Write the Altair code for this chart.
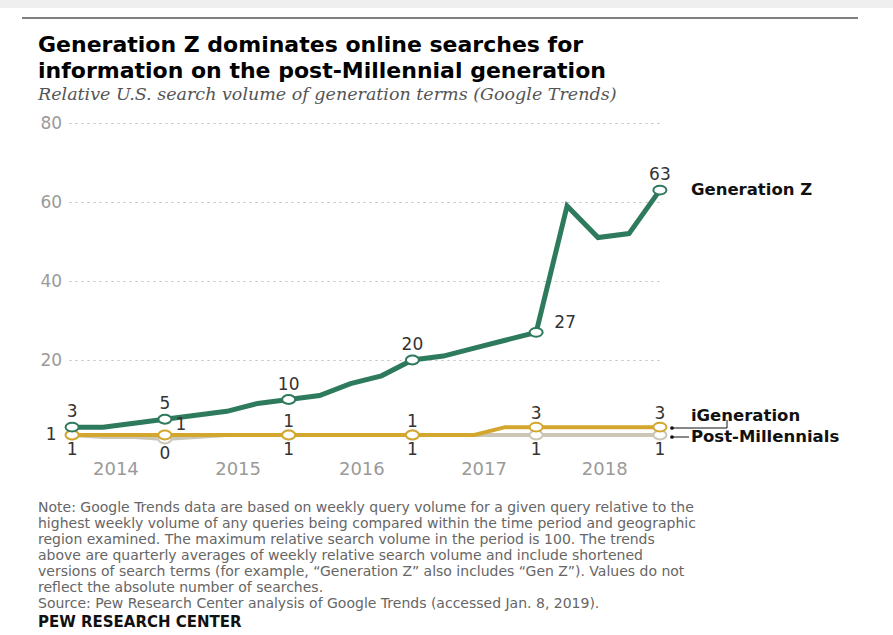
import altair as alt
import pandas as pd

quarters = ["2014 Q1", "2014 Q2", "2014 Q3", "2014 Q4",
            "2015 Q1", "2015 Q2", "2015 Q3", "2015 Q4",
            "2016 Q1", "2016 Q2", "2016 Q3", "2016 Q4",
            "2017 Q1", "2017 Q2", "2017 Q3", "2017 Q4",
            "2018 Q1", "2018 Q2", "2018 Q3", "2018 Q4"]
gen_z = [3, 3, 4, 5, 6, 7, 9, 10, 11, 14, 16, 20, 21, 23, 25, 27, 59, 51, 52, 63]
igeneration = [1, 1, 1, 1, 1, 1, 1, 1, 1, 1, 1, 1, 1, 1, 3, 3, 3, 3, 3, 3]
post_millennials = [1, 0.5, 0.5, 0, 0.5, 1, 1, 1, 1, 1, 1, 1, 1, 1, 1, 1, 1, 1, 1, 1]
labeled_quarters = ["2014 Q1", "2014 Q4", "2015 Q4", "2016 Q4", "2017 Q4", "2018 Q4"]
series_names = ["Generation Z", "iGeneration", "Post-Millennials"]

title_lines = ["Generation Z dominates online searches for",
               "information on the post-Millennial generation"]
subtitle = "Relative U.S. search volume of generation terms (Google Trends)"
note_lines = [
    "Note: Google Trends data are based on weekly query volume for a given query relative to the",
    "highest weekly volume of any queries being compared within the time period and geographic",
    "region examined. The maximum relative search volume in the period is 100. The trends",
    "above are quarterly averages of weekly relative search volume and include shortened",
    "versions of search terms (for example, \u201cGeneration Z\u201d also includes \u201cGen Z\u201d). Values do not",
    "reflect the absolute number of searches.",
    "Source: Pew Research Center analysis of Google Trends (accessed Jan. 8, 2019).",
]
source_label = "PEW RESEARCH CENTER"

rows = []
for name, vals in zip(series_names, [gen_z, igeneration, post_millennials]):
    for i, (q, v) in enumerate(zip(quarters, vals)):
        rows.append({"quarter": q, "idx": i, "series": name, "value": v,
                     "labeled": q in labeled_quarters})
df = pd.DataFrame(rows)

GREEN = "#2e7a5c"
GOLD = "#d3a62e"
BEIGE = "#cbc6b5"
colors = {"Generation Z": GREEN, "iGeneration": GOLD, "Post-Millennials": BEIGE}
widths = {"Generation Z": 5, "iGeneration": 4, "Post-Millennials": 4}

ellipse = "M -1 0 A 1 0.68 0 1 0 1 0 A 1 0.68 0 1 0 -1 0 Z"

x_enc = alt.X("idx:Q", scale=alt.Scale(domain=[-0.1, 19.1], nice=False, zero=False),
              axis=alt.Axis(values=[1.4, 5.35, 9.35, 13.3, 17.2],
                            labelExpr="'' + (2014 + floor(datum.value / 4))",
                            grid=False, domain=False, ticks=False, labelPadding=21,
                            labelColor="#9a9a9a", labelFontSize=18, labelFont="DejaVu Sans",
                            title=None))
y_enc = alt.Y("value:Q", scale=alt.Scale(domain=[0, 80], nice=False),
              axis=alt.Axis(values=[20, 40, 60, 80], grid=True, gridDash=[2, 4],
                            gridColor="#bdbdbd", gridWidth=1, domain=False, ticks=False,
                            labelAlign="left", labelPadding=29, labelColor="#9a9a9a",
                            labelFontSize=17, labelFont="DejaVu Sans", labelBaseline="middle",
                            title=None))

base = alt.Chart(df)
layers = []

# top decoration
deco = alt.Chart(pd.DataFrame({"a": [0]}))
layers.append(deco.mark_rect(color="#efefef").encode(
    x=alt.value(-69), x2=alt.value(824), y=alt.value(-123), y2=alt.value(-115)))
layers.append(deco.mark_rule(color="#555555", strokeWidth=1.5).encode(
    x=alt.value(-47), x2=alt.value(789), y=alt.value(-105)))

# title and subtitle
layers.append(deco.mark_text(align="left", baseline="alphabetic", font="DejaVu Sans",
                             fontSize=22, fontWeight="bold", color="#000000",
                             lineHeight=26).encode(
    x=alt.value(-31), y=alt.value(52 - 123), text=alt.value(title_lines)))
layers.append(deco.mark_text(align="left", baseline="alphabetic", font="DejaVu Serif",
                             fontSize=17.5, fontStyle="italic", color="#555555").encode(
    x=alt.value(-31), y=alt.value(100 - 123), text=alt.value(subtitle)))

for name in ["Post-Millennials", "iGeneration", "Generation Z"]:
    s = base.transform_filter(alt.datum.series == name)
    layers.append(s.mark_line(color=colors[name], strokeWidth=widths[name]).encode(x=x_enc, y=y_enc))
    layers.append(s.transform_filter(alt.datum.labeled).mark_point(
        shape=ellipse, size=170, filled=True, fill="white", stroke=colors[name],
        strokeWidth=2, opacity=1).encode(x=x_enc, y=y_enc))

txt = dict(font="DejaVu Sans", fontSize=17, color="#333333")
val_text = alt.Text("value:Q", format=".0f")

def lab(series, qs, **kw):
    return base.transform_filter(alt.datum.series == series).transform_filter(
        alt.FieldOneOfPredicate(field="quarter", oneOf=qs)
    ).mark_text(**txt, **kw).encode(x=x_enc, y=y_enc, text=val_text)

layers.append(lab("Generation Z", ["2014 Q1", "2014 Q4", "2015 Q4", "2016 Q4", "2018 Q4"], dy=-15))
layers.append(lab("Generation Z", ["2017 Q4"], dx=29, dy=-9))
layers.append(lab("iGeneration", ["2015 Q4", "2016 Q4", "2017 Q4", "2018 Q4"], dy=-13))
layers.append(lab("iGeneration", ["2014 Q1"], dx=-21, dy=0))
layers.append(lab("iGeneration", ["2014 Q4"], dx=16, dy=-10))
layers.append(lab("Post-Millennials", labeled_quarters, dy=15))

# series name labels
name_kw = dict(font="DejaVu Sans", fontSize=16.5, fontWeight="bold", color="#111111",
               align="left", baseline="middle")
last = base.transform_filter(alt.datum.quarter == "2018 Q4")
layers.append(last.transform_filter(alt.datum.series == "Generation Z").mark_text(
    **name_kw, dx=31, dy=0).encode(x=x_enc, y=y_enc, text="series:N"))
layers.append(last.transform_filter(alt.datum.series == "iGeneration").mark_text(
    **name_kw, dx=31, dy=-11).encode(x=x_enc, y=y_enc, text="series:N"))
layers.append(last.transform_filter(alt.datum.series == "Post-Millennials").mark_text(
    **name_kw, dx=31, dy=2).encode(x=x_enc, y=y_enc, text="series:N"))

# leader lines
layers.append(deco.mark_rule(color="#111111", strokeWidth=1).encode(
    x=alt.value(603), x2=alt.value(658), y=alt.value(305)))
layers.append(deco.mark_rule(color="#111111", strokeWidth=1).encode(
    x=alt.value(658), y=alt.value(297), y2=alt.value(305)))
layers.append(deco.mark_rule(color="#111111", strokeWidth=1).encode(
    x=alt.value(603), x2=alt.value(620), y=alt.value(314)))
layers.append(deco.mark_point(filled=True, color="#111111", size=14, opacity=1).encode(
    x=alt.value(603), y=alt.value(305)))
layers.append(deco.mark_point(filled=True, color="#111111", size=14, opacity=1).encode(
    x=alt.value(603), y=alt.value(314)))

# note and source
layers.append(deco.mark_text(align="left", baseline="alphabetic", font="DejaVu Sans",
                             fontSize=14, lineHeight=16, color="#666666").encode(
    x=alt.value(-31), y=alt.value(512 - 123), text=alt.value(note_lines)))
layers.append(deco.mark_text(align="left", baseline="alphabetic", font="DejaVu Sans",
                             fontSize=15, fontWeight="bold", color="#111111").encode(
    x=alt.value(-31), y=alt.value(627 - 123), text=alt.value(source_label)))

chart = alt.layer(*layers).properties(
    width=594, height=316,
    padding={"left": 69, "top": 123, "right": 230, "bottom": 196},
    autosize="none",
    background="white",
).configure_view(stroke=None)

chart.save("out.html", embed_options={"renderer": "svg", "actions": False})
